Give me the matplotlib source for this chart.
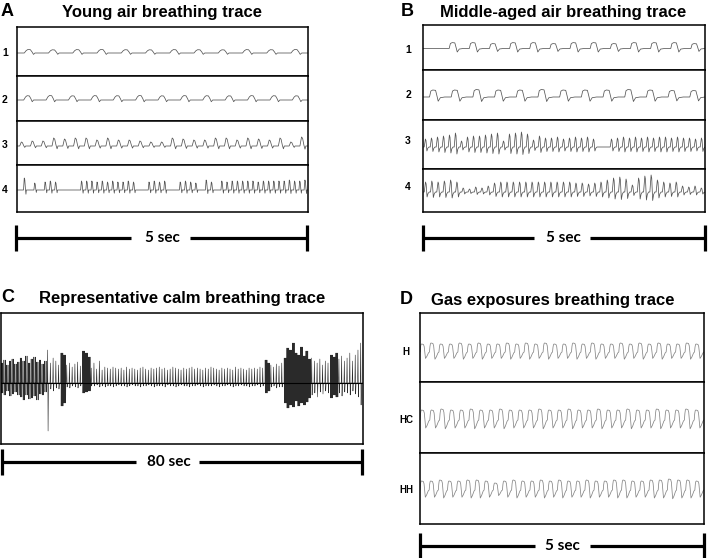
import numpy as np
import matplotlib.pyplot as plt

W, H = 709, 558

# breath shapes, one period each (time 0..1, height relative to the breath amplitude)
bump_t = [0, .30, .38, .45, .55, .62, .68, .74, 1]
bump_y = [0, 0, .7, 1, .95, .3, -.4, 0, 0]
spike_t = [0, .25, .40, .50, .62, .72, .80, 1]
spike_y = [0, 0, 1, .85, .1, -.35, 0, 0]
sq_t = [0, .30, .36, .45, .58, .64, .70, .80, 1]
sq_y = [0, 0, .85, 1, .95, .2, -.6, -.1, 0]
sp2_t = [0, .20, .40, .50, .65, .80, 1]
sp2_y = [0, 0, 1, .8, -.5, -.15, 0]
gas_t = [0, .05, .10, .16, .36, .44, .50, .58, .72, .90, 1]
gas_y = [0, .6, .92, 1, .95, .7, .1, -.8, -.55, -.1, 0]

# A - young, air (peak height of each breath)
young_1 = [3.5, 3.2, 3.4, 3.5, 3.3, 3.2, 3.4, 3.3, 3.2, 3.4, 3.3, 3.5]
young_2 = [4.3, 4.5, 4.2, 4.4, 4.3, 4.5, 4.2, 4.4, 4.3, 4.2, 4.4, 4.3, 4.2]
young_3 = [4, 5, 5, 8, 7, 8, 8, 6, 8, 6, 6, 5, 4, 4, 8, 7, 6, 6, 8, 8, 6, 8, 7, 6, 8, 4, 9]
young_4 = [0, 12, 0, 7, 0, 8, 9, 8, 0, 0, 0, 0, 9, 9, 9, 8, 9, 8, 9, 8, 8, 9, 8, 0, 0, 8, 9, 8,
           9, 0, 0, 8, 9, 8, 7, 0, 10, 8, 0, 9, 8, 9, 9, 9, 9, 9, 8, 9, 9, 9, 9, 9, 10, 9, 9, 10]

# B - middle-aged, air
mid_1 = [0, 6, 6, 5, 6, 6, 5, 6, 6, 5, 6, 6, 6, 5]
mid_2 = [7, 7, 7.5, 7, 7, 7.5, 7, 7, 7, 7.5, 7, 6.5, 6.5]
mid_3 = [8, 9, 10, 11, 12, 14, 6, 10, 11, 11, 12, 13, 14, 6, 13, 14, 15, 13, 7, 11, 9, 9, 10,
         8, 9, 10, 9, 10, 8, 0, 0, 8, 9, 10, 9, 10, 9, 10, 9, 10, 10, 9, 10, 9, 9, 8, 9]
mid_4 = [10, 11, 10, 11, 12, 10, 4, 3, 5, 4, 6, 9, 10, 10, 10, 10, 10, 10, 10, 10, 10, 10, 10,
         10, 9, 9, 8, 9, 10, 12, 14, 15, 13, 7, 14, 16, 17, 12, 10, 9, 10, 6, 5, 6, 4]

# C - 80 s calm trace: up / down excursion of each breath
calm_up = [20, 23, 18, 22, 24, 19, 21,
           25, 22, 27, 20, 24, 26, 21, 23, 19, 22,
           33,
           20, 25, 22, 18,
           30, 28,
           18, 20, 16, 19, 21, 17,
           32, 30, 26,
           15, 20, 14, 22, 13,
           16, 15, 14, 16, 15, 14, 15, 13, 16, 14, 15, 14, 13, 15, 16, 14, 13, 15, 14, 15,
           16, 14, 15, 13, 14, 16, 15, 14, 13, 15, 14, 15, 16, 14, 15, 14, 13, 15, 14, 16,
           15, 14, 13, 15, 14, 15, 14, 13, 16, 14, 15, 14, 13, 15, 14, 15, 14, 16, 15,
           23, 20,
           18, 16, 19, 17, 20,
           25, 35, 33, 40, 30, 28, 36, 27, 32, 24,
           25, 22, 20, 24, 18, 22, 20,
           28, 26, 30, 24, 27, 22,
           25, 30, 22, 28, 33, 40]
calm_down = [10, 12, 8, 13, 11, 9, 12,
             14, 17, 12, 16, 15, 13, 17, 11, 12, 9,
             48,
             6, 8, 5, 6,
             23, 20,
             4, 5, 3, 4, 5, 3,
             10, 9, 8,
             3, 3, 2, 4, 3,
             4, 3, 3, 4, 3, 2, 3, 3, 4, 3, 2, 3, 3, 4, 3, 3, 2, 3, 4, 3,
             3, 3, 4, 2, 3, 3, 4, 3, 2, 3, 3, 4, 3, 3, 2, 3, 4, 3, 3, 3,
             2, 3, 4, 3, 3, 2, 3, 4, 3, 3, 2, 3, 3, 4, 3, 3, 2, 4, 3,
             10, 8,
             4, 3, 5, 4, 4,
             20, 25, 22, 24, 18, 23, 20, 22, 19, 15,
             12, 10, 14, 9, 11, 8, 10,
             15, 12, 14, 10, 13, 9,
             10, 12, 8, 11, 14, 22]
calm_dense = list(range(0, 17))
calm_burst = [22, 23, 30, 31, 32, 97, 98, 104, 105, 106, 107, 108, 109, 110, 111, 112, 113,
              121, 122, 123]

# D - gas exposures
gas_H = [8, 9, 8, 8, 9, 8, 9, 8, 8, 9, 8, 9, 8, 9, 8, 8, 9, 8, 9, 8, 8, 9, 8, 9, 8, 9, 8, 8, 9, 8]
gas_HC = [10, 10, 11, 10, 10, 11, 10, 10, 11, 10, 10, 10, 11, 10, 10, 11, 10, 10, 11, 10, 10,
          11, 10, 10, 11, 10, 10, 11, 10]
gas_HH = [9, 9, 10, 9, 9, 10, 10, 9, 7, 9, 10, 9, 9, 10, 9, 10, 9, 9, 10, 9, 9, 10, 10, 9, 9,
          10, 10, 11, 10, 10, 9]


def build(amps, tt, yy):
    xs, ys = [], []
    for i, a in enumerate(amps):
        xs.extend(i + np.array(tt))
        ys.extend(a * np.array(yy))
    return xs, ys


def build_calm(up, down, dense, burst):
    xs, ys = [], []
    for i in range(len(up)):
        n = 3 if i in burst else (2 if i in dense else 1)
        for k in range(n):
            x0 = i + k / n
            xs.extend(x0 + np.array([0, .15, .3, .45, 1]) / n)
            ys.extend([0, up[i], -down[i], 0, 0])
    return np.array(xs) * 80 / len(up), ys


fig = plt.figure(figsize=(W / 100, H / 100), dpi=100)


def box(x0, y0, x1, y1):
    ax = fig.add_axes([x0 / W, 1 - y1 / H, (x1 - x0) / W, (y1 - y0) / H])
    ax.set_xticks([])
    ax.set_yticks([])
    for s in ax.spines.values():
        s.set_linewidth(1.1)
    return ax


def row(x0, y0, x1, y1, amps, tt, yy, ylim, color='#555555'):
    ax = box(x0, y0, x1, y1)
    xs, ys = build(amps, tt, yy)
    ax.plot(xs, ys, color=color, lw=0.55)
    ax.set_xlim(0, len(amps))
    ax.set_ylim(*ylim)
    return ax


# panel A
row(17, 27, 308, 76, young_1, bump_t, bump_y, (-23, 26))
row(17, 76, 308, 121, young_2, bump_t, bump_y, (-21, 24))
row(17, 121, 308, 165, young_3, spike_t, spike_y, (-19, 25))
row(17, 165, 308, 212, young_4, spike_t, spike_y, (-22, 25))

# panel B
row(423, 25, 705, 70, mid_1, sq_t, sq_y, (-22, 24))
row(423, 70, 705, 120, mid_2, sq_t, sq_y, (-23, 27))
row(423, 120, 705, 169, mid_3, sp2_t, sp2_y, (-22, 27))
row(423, 169, 705, 212, mid_4, sp2_t, sp2_y, (-20, 23))

# panel C
axc = box(1, 313, 363, 444)
cx, cy = build_calm(calm_up, calm_down, calm_dense, calm_burst)
axc.plot(cx, cy, color='#2a2a2a', lw=0.4)
axc.axhline(0, color='black', lw=0.8)
axc.set_xlim(0, 80)
axc.set_ylim(-61, 70)

# panel D
row(420, 313, 704, 382, gas_H, gas_t, gas_y, (-30, 39), '#858585')
row(420, 382, 704, 453, gas_HC, gas_t, gas_y, (-33, 38), '#858585')
row(420, 453, 704, 524, gas_HH, gas_t, gas_y, (-34, 37), '#858585')

# labels and scale bars
ov = fig.add_axes([0, 0, 1, 1], facecolor='none')
ov.set_xlim(0, W)
ov.set_ylim(H, 0)
ov.axis('off')

tfont = dict(family='Liberation Sans', weight='bold', va='center')
for lab, x, y in [('A', 1, 12), ('B', 401, 12), ('C', 1, 298), ('D', 400, 300)]:
    ov.text(x, y, lab, fontsize=13, ha='left', **tfont)
for txt, x, y in [('Young air breathing trace', 162, 12),
                  ('Middle-aged air breathing trace', 563, 12),
                  ('Representative calm breathing trace', 182, 298),
                  ('Gas exposures breathing trace', 553, 300)]:
    ov.text(x, y, txt, fontsize=12, ha='center', **tfont)

for i, y in enumerate([53, 100, 145, 190]):
    ov.text(5, y, str(i + 1), fontsize=7.5, ha='center', **tfont)
for i, y in enumerate([50, 95, 141, 187]):
    ov.text(408, y, str(i + 1), fontsize=7.5, ha='center', **tfont)
for lab, y in [('H', 352), ('HC', 420), ('HH', 490)]:
    ov.text(406, y, lab, fontsize=7, ha='center', **tfont)

bars = [(16, 307, 238, 162, '5 sec', 131, 190),
        (423, 705, 238, 563, '5 sec', 534, 590),
        (2, 362, 462, 169, '80 sec', 136, 199),
        (420, 704, 546, 562, '5 sec', 535, 590)]
for x0, x1, y, xt, txt, g0, g1 in bars:
    ov.plot([x0, g0], [y, y], color='black', lw=2.3, solid_capstyle='butt')
    ov.plot([g1, x1], [y, y], color='black', lw=2.3, solid_capstyle='butt')
    ov.plot([x0, x0], [y - 13, y + 13], color='black', lw=2.3, solid_capstyle='butt')
    ov.plot([x1, x1], [y - 13, y + 13], color='black', lw=2.3, solid_capstyle='butt')
    ov.text(xt, y, txt, fontsize=11, family='Lato', weight='bold', ha='center', va='center')

fig.savefig('out.png', dpi=100)
